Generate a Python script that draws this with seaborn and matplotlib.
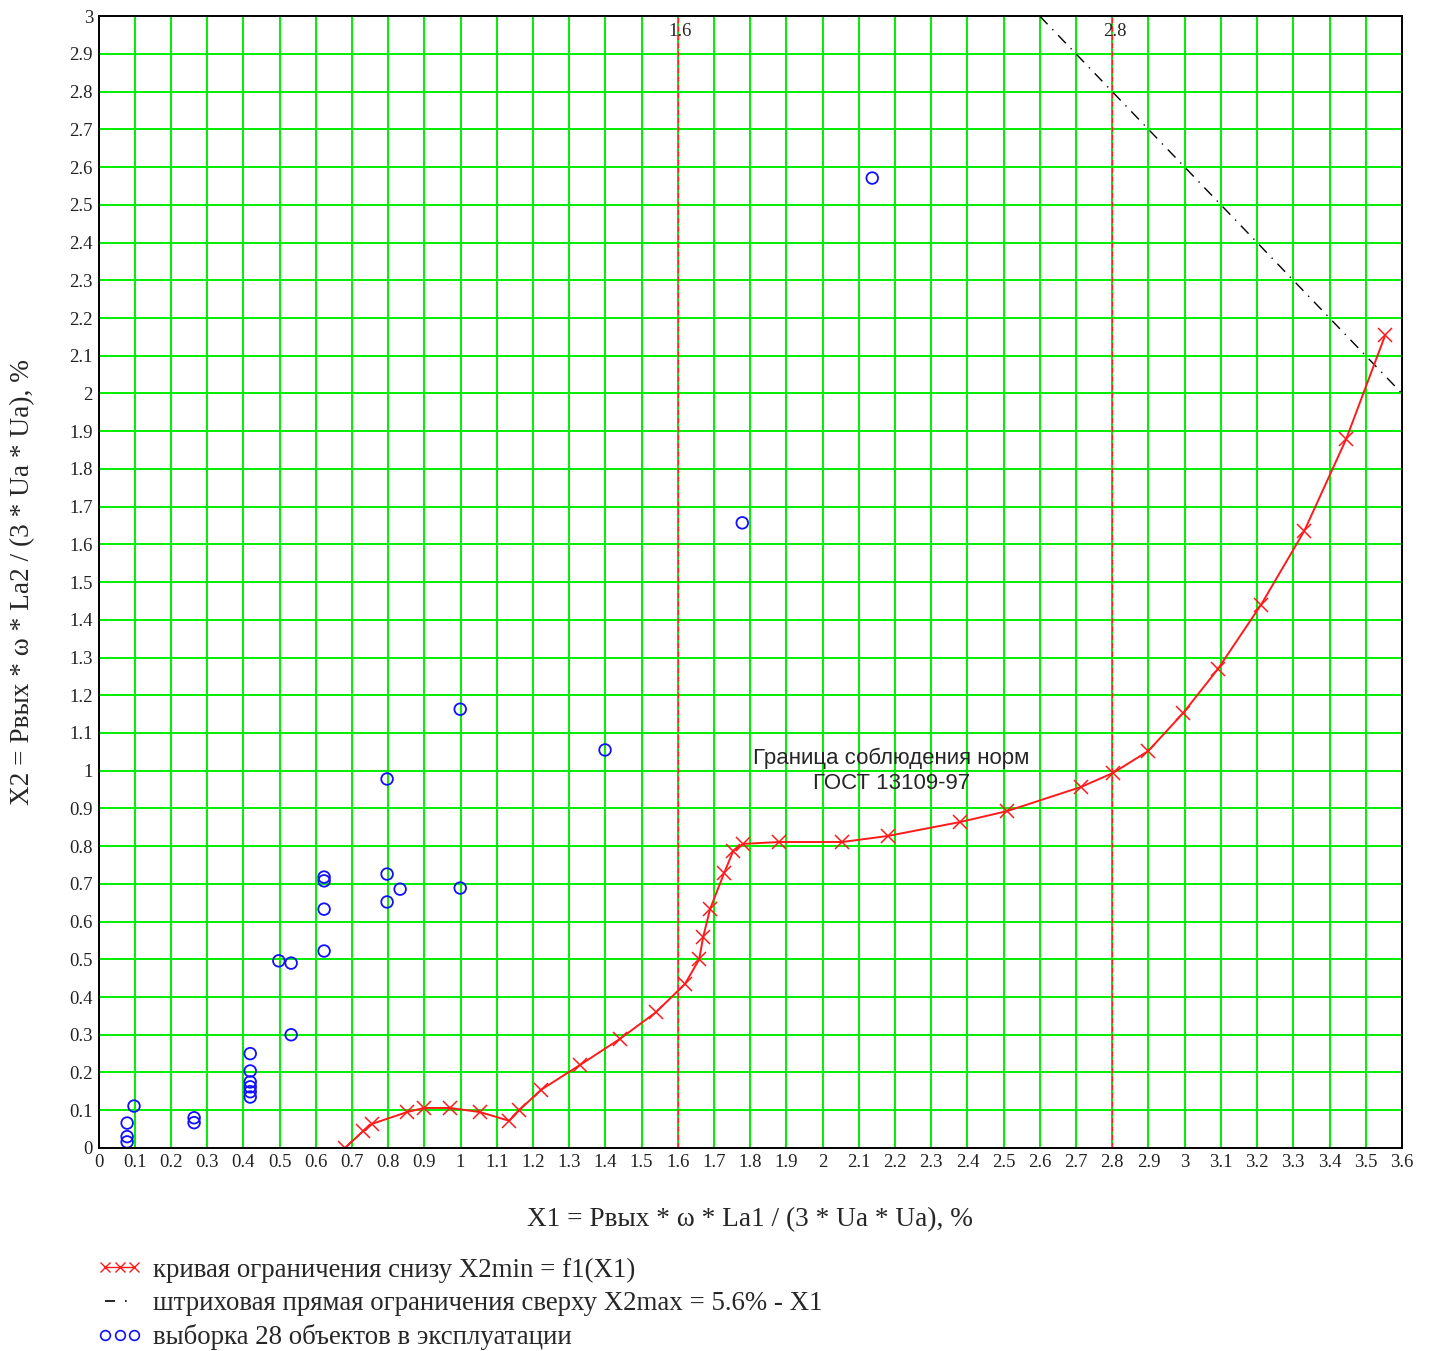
import numpy as np
import pandas as pd
import matplotlib
matplotlib.use("Agg")
import matplotlib.pyplot as plt
from matplotlib.lines import Line2D
import seaborn as sns

# Lower boundary curve X2min = f1(X1)
curve_x1 = [0.681, 0.731, 0.756, 0.852, 0.899, 0.971, 1.054, 1.134, 1.162, 1.222,
            1.330, 1.440, 1.540, 1.620, 1.659, 1.670, 1.689, 1.728, 1.753, 1.780,
            1.880, 2.054, 2.180, 2.380, 2.510, 2.714, 2.802, 2.899, 2.996, 3.092,
            3.211, 3.330, 3.446, 3.554]
curve_x2 = [0.000, 0.045, 0.064, 0.095, 0.106, 0.106, 0.095, 0.072, 0.100, 0.154,
            0.220, 0.289, 0.360, 0.435, 0.500, 0.559, 0.633, 0.729, 0.787, 0.806,
            0.811, 0.811, 0.827, 0.864, 0.893, 0.957, 0.994, 1.052, 1.153, 1.270,
            1.440, 1.635, 1.879, 2.155]

# Upper boundary X2max = 5.6% - X1
upper_x1 = [2.6, 3.6]
upper_x2 = [5.6 - v for v in upper_x1]

# Sample of 28 objects in operation
obj_x1 = [0.079, 0.079, 0.079, 0.098, 0.264, 0.264,
          0.419, 0.419, 0.419, 0.419, 0.419, 0.419,
          0.498, 0.532, 0.532,
          0.623, 0.623, 0.623, 0.623,
          0.797, 0.797, 0.797, 0.833,
          0.999, 0.999, 1.399, 1.778, 2.137]
obj_x2 = [0.066, 0.030, 0.016, 0.111, 0.080, 0.067,
          0.250, 0.204, 0.175, 0.162, 0.149, 0.135,
          0.496, 0.490, 0.300,
          0.522, 0.633, 0.708, 0.718,
          0.978, 0.726, 0.652, 0.686,
          1.163, 0.689, 1.055, 1.657, 2.571]

# Reference verticals
vlines_x = [1.6, 2.8]
vlines_labels = ["1.6", "2.8"]

x_ticks = [round(0.1 * i, 1) for i in range(37)]
y_ticks = [round(0.1 * i, 1) for i in range(31)]


def fmt(v):
    return "%g" % v


sns.set_theme(style="white")
plt.rcParams["font.family"] = ["Liberation Serif", "DejaVu Serif"]

fig = plt.figure(figsize=(14.32, 13.51), dpi=100)
ax = fig.add_axes([0.0688, 0.1503, 0.9102, 0.8377])

curve_df = pd.DataFrame({"X1": curve_x1, "X2": curve_x2})
upper_df = pd.DataFrame({"X1": upper_x1, "X2": upper_x2})
obj_df = pd.DataFrame({"X1": obj_x1, "X2": obj_x2})

green = "#00ee00"
for v in x_ticks[1:-1]:
    ax.axvline(v, color=green, lw=1.4, zorder=1)
for v in y_ticks[1:-1]:
    ax.axhline(v, color=green, lw=1.4, zorder=1)

for v in vlines_x:
    ax.axvline(v, color="#ff2020", lw=1.0, ls=(0, (4, 2)), zorder=2)

red = "#ff1a1a"
sns.lineplot(data=curve_df, x="X1", y="X2", ax=ax, sort=False, estimator=None,
             color=red, lw=1.4, marker="x", markersize=10,
             markeredgewidth=1.1, markeredgecolor=red, markerfacecolor=red,
             zorder=4)
sns.lineplot(data=upper_df, x="X1", y="X2", ax=ax, sort=False, estimator=None,
             color="black", lw=1.0, ls=(0, (8, 5, 1, 5)), zorder=3)
sns.scatterplot(data=obj_df, x="X1", y="X2", ax=ax, marker="o", s=70,
                facecolors="none", edgecolors="#1010ff", linewidths=1.3,
                zorder=5)

ax.set_xlim(0, 3.6)
ax.set_ylim(0, 3.0)
ax.set_xticks(x_ticks)
ax.set_yticks(y_ticks)
ax.set_xticklabels([fmt(v) for v in x_ticks], fontsize=13.5)
ax.set_yticklabels([fmt(v) for v in y_ticks], fontsize=13.5)
ax.tick_params(axis="both", length=0, pad=4, colors="#222222")
for s in ax.spines.values():
    s.set_color("black")
    s.set_linewidth(1.4)
    s.set_zorder(6)

ax.set_xlabel("X1 = Pвых * ω * La1 / (3 * Ua * Ua), %", fontsize=19.6,
              labelpad=26)
ax.set_ylabel("X2 = Pвых * ω * La2 / (3 * Ua * Ua), %", fontsize=19.6)
ax.yaxis.set_label_coords(-0.049, 0.5)

for v, lab in zip(vlines_x, vlines_labels):
    ax.text(v - 0.025, 2.96, lab, fontsize=13.5, ha="left", va="center",
            zorder=6)

ax.text(2.19, 1.0, "Граница соблюдения норм\nГОСТ 13109-97",
        family=["Liberation Sans", "DejaVu Sans"], fontsize=16,
        ha="center", va="center", linespacing=1.25, zorder=6)

handles = [
    Line2D([], [], color=red, lw=1.0, marker="x", markersize=7,
           markeredgewidth=1.0),
    Line2D([], [], color="black", lw=1.2, ls=(0, (6, 6, 1, 6))),
    Line2D([], [], color="#1010ff", lw=0, marker="o", markersize=7,
           markerfacecolor="none", markeredgewidth=1.2),
]
labels = [
    "кривая ограничения снизу X2min = f1(X1)",
    "штриховая прямая ограничения сверху X2max = 5.6% - X1",
    "выборка 28 объектов в эксплуатации",
]
fig.legend(handles, labels, loc="upper left", bbox_to_anchor=(0.060, 0.077),
           frameon=False, fontsize=19.4, numpoints=3, handlelength=1.7,
           handletextpad=0.4, labelspacing=0.3, borderaxespad=0)

fig.savefig("out.png", dpi=100, facecolor="white")
